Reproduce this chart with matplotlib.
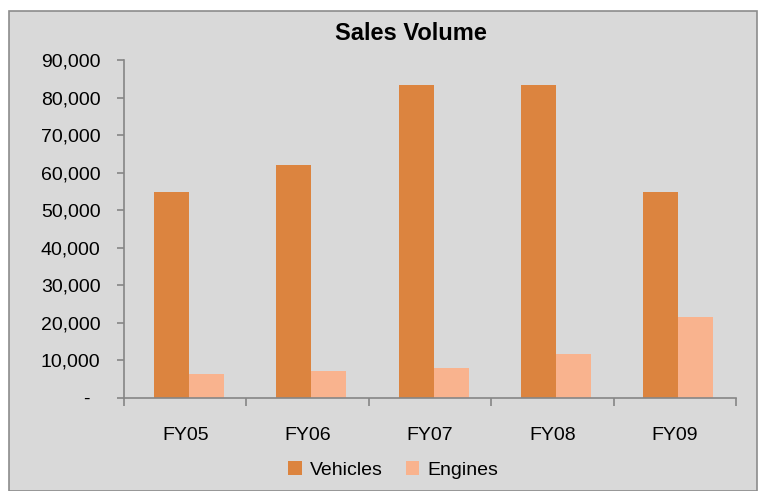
import matplotlib
matplotlib.use("Agg")
import matplotlib.pyplot as plt
import numpy as np
from matplotlib.patches import Rectangle
from matplotlib.ticker import FuncFormatter

categories = ["FY05", "FY06", "FY07", "FY08", "FY09"]
vehicles = [54800, 62000, 83300, 83300, 54800]
engines = [6400, 7300, 8100, 11800, 21600]
yticks = [0, 10000, 20000, 30000, 40000, 50000, 60000, 70000, 80000, 90000]

plt.rcParams['font.family'] = ['Liberation Sans', 'DejaVu Sans']

W, H = 758, 491
fig = plt.figure(figsize=(W / 100, H / 100), dpi=100)
fig.patch.set_facecolor('white')
bg = Rectangle((9 / W, 0), (W - 10) / W, (H - 11) / H, transform=fig.transFigure,
               facecolor='#d9d9d9', edgecolor='#8c8c8c', linewidth=1.2, zorder=-5)
fig.patches.append(bg)

left, right, top, bottom = 124, 736, 60, 398
ax = fig.add_axes([left / W, 1 - bottom / H, (right - left) / W, (bottom - top) / H])
ax.set_zorder(2)
ax.set_facecolor('none')

x = np.arange(len(categories))
bw = 0.286
c_veh = '#DC843F'
c_eng = '#F9B38E'
ax.bar(x + 0.03 - bw / 2, vehicles, bw, color=c_veh, label='Vehicles')
ax.bar(x + 0.03 + bw / 2, engines, bw, color=c_eng, label='Engines')

ax.set_xlim(-0.5, len(categories) - 0.5)
ax.set_ylim(0, 90000)
ax.set_yticks(yticks)
ax.yaxis.set_major_formatter(FuncFormatter(lambda v, p: '-\u2002' if v == 0 else f'{int(v):,}'))
ax.set_xticks(x)
ax.set_xticklabels(categories)
ax.set_xticks(np.arange(len(categories) + 1) - 0.5, minor=True)
ax.tick_params(axis='x', which='major', length=0, pad=21, labelsize=14)
ax.tick_params(axis='x', which='minor', length=6, color='#868686', width=1.2)
ax.tick_params(axis='y', length=5, color='#868686', width=1.2, labelsize=14, pad=12)

for s in ['top', 'right']:
    ax.spines[s].set_visible(False)
for s in ['left', 'bottom']:
    ax.spines[s].set_color('#868686')
    ax.spines[s].set_linewidth(1.2)

fig.text(411 / W, 1 - 33 / H, 'Sales Volume', ha='center', va='center', fontsize=17,
         fontweight='bold')

leg = fig.legend(loc='center', bbox_to_anchor=(393 / W, 1 - 470 / H), ncol=2, frameon=False,
                 fontsize=14, handlelength=0.7, handleheight=0.7, handletextpad=0.4,
                 columnspacing=1.2)

fig.savefig('out.png', dpi=100)
